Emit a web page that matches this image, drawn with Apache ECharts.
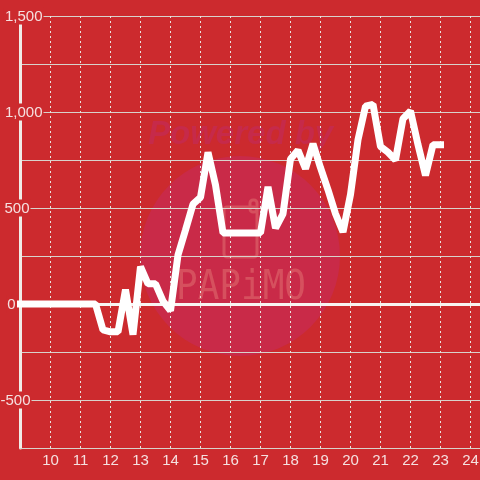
<!DOCTYPE html>
<html>
<head>
<meta charset="utf-8">
<style>
html, body { margin: 0; padding: 0; background: #cc2a2e; }
#chart { width: 480px; height: 480px; }
</style>
<script src="https://cdn.jsdelivr.net/npm/echarts@6/dist/echarts.min.js"></script>
</head>
<body>
<div id="chart"></div>
<script>
var hours = [9, 9.25, 9.5, 9.75, 10, 10.25, 10.5, 10.75, 11, 11.25, 11.5, 11.75,
    12, 12.25, 12.5, 12.75, 13, 13.25, 13.5, 13.75, 14, 14.25, 14.5, 14.75,
    15, 15.25, 15.5, 15.75, 16, 16.25, 16.5, 16.75, 17, 17.25, 17.5, 17.75,
    18, 18.25, 18.5, 18.75, 19, 19.25, 19.5, 19.75, 20, 20.25, 20.5, 20.75,
    21, 21.25, 21.5, 21.75, 22, 22.25, 22.5, 22.75, 23];
var values = [0, 0, 0, 0, 0, 0, 0, 0, 0, 0, 0, -135,
    -145, -145, 75, -160, 195, 105, 105, 15, -35, 255, 385, 520,
    555, 790, 620, 370, 370, 370, 370, 370, 370, 610, 395, 470,
    755, 800, 705, 835, 710, 595, 470, 375, 570, 855, 1030, 1040,
    820, 790, 750, 965, 1005, 830, 670, 830, 830];

var bg = '#cc2a2e';

var chart = echarts.init(document.getElementById('chart'));

var fmtY = function (v) {
    if (v === 1500) return '{a|1,500}';
    if (v === 1000) return '{a|1,000}';
    if (v === 500) return '{a|500}{g1| }';
    if (v === 0) return '{a|0}{g2| }';
    if (v === -500) return '{a|-500}{g3| }';
    return '';
};

chart.setOption({
    backgroundColor: bg,
    animation: false,
    grid: { left: 20.5, right: 0, top: 16, bottom: 32, outerBoundsMode: 'none' },
    graphic: [
        { type: 'circle', z: -10, silent: true, shape: { cx: 240, cy: 256, r: 100 }, style: { fill: '#c92a48' } },
        { type: 'text', z: -9, silent: true, x: 148, y: 118, style: { text: 'Powered by', font: 'italic bold 33px "Liberation Sans"', fill: '#c62a4a' } },
        { type: 'rect', z: -8, silent: true, shape: { x: 224, y: 207, width: 33, height: 50, r: 3 }, style: { fill: 'none', stroke: '#d6505e', lineWidth: 3 } },
        { type: 'rect', z: -8, silent: true, shape: { x: 250, y: 200, width: 7, height: 12, r: 3 }, style: { fill: 'none', stroke: '#d6505e', lineWidth: 3 } },
        { type: 'text', z: -8, silent: true, x: 176, y: 268, scaleY: 1.15, style: { text: 'PAPiMO', font: '36px "DejaVu Sans Mono"', fill: '#d6505e' } }
    ],
    xAxis: [{
        type: 'value',
        position: 'bottom',
        min: 9,
        max: 9 + 459.5 / 30,
        interval: 1,
        axisLine: { onZero: false, lineStyle: { color: '#d8d2cc', width: 1 } },
        axisTick: { show: false },
        axisLabel: { color: '#f5e0e0', fontSize: 15, fontFamily: 'Liberation Sans', margin: 5, showMinLabel: false, showMaxLabel: false },
        splitLine: { show: true, lineStyle: { color: '#e8e4e0', width: 1, type: [2, 3] } }
    }, {
        // thick zero line
        type: 'value',
        min: 9,
        max: 9 + 459.5 / 30,
        interval: 1,
        axisLine: { show: true, onZero: true, lineStyle: { color: '#f8f4f2', width: 3 } },
        axisTick: { show: false },
        axisLabel: { show: false },
        splitLine: { show: false }
    }],
    yAxis: {
        type: 'value',
        min: -750,
        max: 1500,
        interval: 250,
        axisLine: { show: true, onZero: false, lineStyle: { color: '#f0ece8', width: 3 } },
        axisTick: { show: false },
        splitLine: { show: true, lineStyle: { color: '#d8d2cc', width: 1 } },
        axisLabel: {
            margin: -23,
            fontSize: 15,
            fontFamily: 'Liberation Sans',
            color: '#f5e0e0',
            formatter: fmtY,
            rich: {
                a: { fontSize: 15, fontFamily: 'Liberation Sans', color: '#f5e0e0', backgroundColor: bg, padding: [2, 1, 0, 1] },
                g1: { width: 13 },
                g2: { width: 27 },
                g3: { width: 12 }
            }
        }
    },
    series: [{
        type: 'line',
        data: hours.map(function (h, i) { return [h, values[i]]; }),
        showSymbol: false,
        symbol: 'none',
        clip: false,
        z: 5,
        lineStyle: { color: '#ffffff', width: 7, cap: 'square', join: 'bevel' }
    }]
});
</script>
</body>
</html>
